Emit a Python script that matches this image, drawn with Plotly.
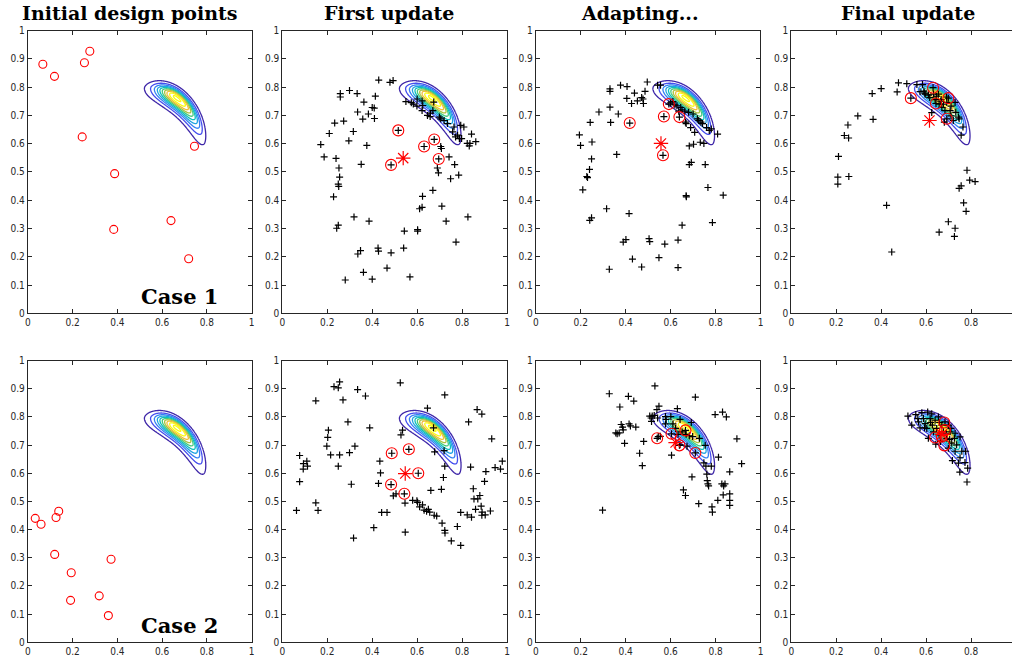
import numpy as np
import plotly.graph_objects as go

# ---------------- data ----------------
TITLES = ["Initial design points", "First update", "Adapting...", "Final update"]
CASE_LABELS = ["Case 1", "Case 2"]
X_TICKS = [0, 0.2, 0.4, 0.6, 0.8, 1]
X_TICK_TEXT = ["0", "0.2", "0.4", "0.6", "0.8", "1"]
Y_TICKS = [0, 0.1, 0.2, 0.3, 0.4, 0.5, 0.6, 0.7, 0.8, 0.9, 1]
Y_TICK_TEXT = ["0", "0.1", "0.2", "0.3", "0.4", "0.5", "0.6", "0.7", "0.8", "0.9", "1"]

# Row 1 / column 1 : initial design points (case 1)
P11_CIRC_X = [0.067, 0.119, 0.277, 0.253, 0.243, 0.388, 0.384, 0.640, 0.745, 0.719]
P11_CIRC_Y = [0.881, 0.838, 0.927, 0.886, 0.624, 0.494, 0.297, 0.328, 0.591, 0.193]
# Row 2 / column 1 : initial design points (case 2)
P21_CIRC_X = [0.033, 0.059, 0.126, 0.138, 0.120, 0.194, 0.191, 0.372, 0.319, 0.360]
P21_CIRC_Y = [0.440, 0.419, 0.443, 0.465, 0.312, 0.247, 0.149, 0.295, 0.165, 0.095]

# Row 1 / column 2 : first update
P12_CIRC_X = [0.516, 0.484, 0.631, 0.676, 0.696]
P12_CIRC_Y = [0.647, 0.525, 0.590, 0.615, 0.546]
P12_STAR = (0.538, 0.549)
P12_PLUS = [
    (0.171, 0.597), (0.186, 0.553), (0.209, 0.636), (0.233, 0.673), (0.239, 0.548),
    (0.228, 0.412), (0.242, 0.301), (0.249, 0.312), (0.249, 0.457), (0.251, 0.449),
    (0.252, 0.514), (0.255, 0.482), (0.258, 0.777), (0.258, 0.765), (0.273, 0.680),
    (0.280, 0.118), (0.296, 0.610), (0.299, 0.788), (0.316, 0.643), (0.319, 0.341),
    (0.333, 0.777), (0.335, 0.712), (0.336, 0.210), (0.348, 0.222), (0.351, 0.527),
    (0.358, 0.687), (0.363, 0.747), (0.361, 0.145), (0.376, 0.594), (0.383, 0.705),
    (0.386, 0.326), (0.400, 0.728), (0.409, 0.726), (0.410, 0.689), (0.414, 0.768),
    (0.400, 0.121), (0.426, 0.231), (0.428, 0.220), (0.429, 0.825), (0.466, 0.160),
    (0.479, 0.817), (0.484, 0.214), (0.493, 0.823), (0.540, 0.231), (0.543, 0.291),
    (0.550, 0.749), (0.568, 0.129), (0.574, 0.745), (0.583, 0.740), (0.600, 0.758),
    (0.599, 0.733), (0.602, 0.296), (0.602, 0.291), (0.611, 0.370), (0.622, 0.751),
    (0.622, 0.717), (0.625, 0.735), (0.622, 0.375), (0.624, 0.414), (0.646, 0.700),
    (0.658, 0.696), (0.659, 0.708), (0.670, 0.717), (0.670, 0.435), (0.674, 0.747),
    (0.690, 0.514), (0.695, 0.497), (0.699, 0.694), (0.705, 0.688), (0.705, 0.590),
    (0.708, 0.583), (0.710, 0.379), (0.729, 0.326), (0.720, 0.682), (0.735, 0.671),
    (0.742, 0.553), (0.749, 0.476), (0.758, 0.642), (0.764, 0.659), (0.767, 0.526),
    (0.771, 0.624), (0.773, 0.252), (0.780, 0.630), (0.785, 0.489), (0.788, 0.618),
    (0.794, 0.665), (0.798, 0.618), (0.808, 0.659), (0.823, 0.601), (0.826, 0.341),
    (0.832, 0.592), (0.835, 0.601), (0.842, 0.634), (0.861, 0.607),
    (0.516, 0.647), (0.484, 0.525), (0.631, 0.590), (0.676, 0.615), (0.696, 0.546),
]

# Row 1 / column 3 : adapting
P13_CIRC_X = [0.418, 0.592, 0.570, 0.639, 0.566]
P13_CIRC_Y = [0.673, 0.740, 0.696, 0.694, 0.559]
P13_STAR = (0.557, 0.601)
P13_PLUS = [
    (0.194, 0.631), (0.199, 0.594), (0.209, 0.437), (0.227, 0.484), (0.230, 0.480),
    (0.239, 0.509), (0.242, 0.675), (0.248, 0.546), (0.250, 0.606), (0.240, 0.329),
    (0.248, 0.338), (0.281, 0.712), (0.315, 0.370), (0.330, 0.794), (0.330, 0.785),
    (0.330, 0.729), (0.333, 0.675), (0.327, 0.156), (0.360, 0.562), (0.367, 0.705),
    (0.377, 0.807), (0.389, 0.252), (0.401, 0.261), (0.406, 0.802), (0.405, 0.760),
    (0.415, 0.353), (0.426, 0.742), (0.430, 0.192), (0.439, 0.779), (0.452, 0.751),
    (0.471, 0.763), (0.477, 0.758), (0.479, 0.742), (0.486, 0.785), (0.471, 0.164),
    (0.496, 0.818), (0.504, 0.264), (0.507, 0.254), (0.542, 0.807), (0.555, 0.807),
    (0.548, 0.197), (0.574, 0.245), (0.610, 0.749), (0.619, 0.737), (0.628, 0.734),
    (0.636, 0.715), (0.651, 0.720), (0.633, 0.259), (0.633, 0.162), (0.651, 0.312),
    (0.663, 0.715), (0.666, 0.676), (0.669, 0.671), (0.669, 0.416), (0.670, 0.412),
    (0.680, 0.711), (0.683, 0.592), (0.683, 0.526), (0.689, 0.657), (0.692, 0.534),
    (0.700, 0.705), (0.702, 0.598), (0.707, 0.640), (0.719, 0.688), (0.725, 0.682),
    (0.732, 0.605), (0.742, 0.671), (0.748, 0.601), (0.754, 0.526), (0.760, 0.657),
    (0.766, 0.445), (0.772, 0.647), (0.781, 0.652), (0.786, 0.321), (0.809, 0.634),
    (0.834, 0.418), (0.600, 0.744), (0.645, 0.728), (0.735, 0.676),
    (0.418, 0.673), (0.592, 0.740), (0.570, 0.696), (0.639, 0.694), (0.566, 0.559),
]

# Row 1 / column 4 : final update
P14_CIRC_X = [0.532, 0.631, 0.699, 0.644, 0.692]
P14_CIRC_Y = [0.761, 0.798, 0.761, 0.742, 0.688]
P14_STAR = (0.615, 0.682)
P14_PLUS = [
    (0.207, 0.457), (0.207, 0.482), (0.210, 0.555), (0.236, 0.629), (0.252, 0.666),
    (0.255, 0.620), (0.256, 0.484), (0.296, 0.698), (0.360, 0.777), (0.364, 0.686),
    (0.400, 0.795), (0.424, 0.382), (0.447, 0.217), (0.471, 0.783), (0.477, 0.815),
    (0.514, 0.812), (0.559, 0.809), (0.573, 0.784), (0.584, 0.809), (0.590, 0.786),
    (0.596, 0.775), (0.610, 0.772), (0.616, 0.763), (0.625, 0.710), (0.633, 0.775),
    (0.640, 0.756), (0.647, 0.768), (0.655, 0.775), (0.658, 0.740), (0.658, 0.287),
    (0.667, 0.756), (0.670, 0.728), (0.677, 0.740), (0.681, 0.676), (0.684, 0.717),
    (0.692, 0.746), (0.699, 0.324), (0.707, 0.717), (0.711, 0.698), (0.721, 0.682),
    (0.726, 0.272), (0.729, 0.301), (0.729, 0.746), (0.732, 0.711), (0.744, 0.694),
    (0.747, 0.688), (0.747, 0.442), (0.756, 0.451), (0.756, 0.630), (0.764, 0.659),
    (0.767, 0.391), (0.778, 0.361), (0.782, 0.506), (0.794, 0.471), (0.818, 0.466),
    (0.691, 0.765), (0.711, 0.733), (0.665, 0.750), (0.594, 0.779),
    (0.532, 0.761), (0.631, 0.798), (0.699, 0.761), (0.644, 0.742), (0.692, 0.688),
]

# Row 2 / column 2 : first update (case 2)
P22_CIRC_X = [0.487, 0.563, 0.605, 0.484, 0.543]
P22_CIRC_Y = [0.671, 0.685, 0.600, 0.560, 0.527]
P22_STAR = (0.547, 0.599)
P22_PLUS = [
    (0.063, 0.468), (0.077, 0.663), (0.077, 0.570), (0.093, 0.615), (0.094, 0.634),
    (0.109, 0.643), (0.112, 0.625), (0.149, 0.857), (0.149, 0.495), (0.159, 0.468),
    (0.198, 0.696), (0.202, 0.727), (0.205, 0.753), (0.215, 0.665), (0.230, 0.907),
    (0.249, 0.903), (0.255, 0.924), (0.249, 0.625), (0.255, 0.665), (0.270, 0.860),
    (0.292, 0.782), (0.299, 0.673), (0.307, 0.561), (0.317, 0.370), (0.323, 0.696),
    (0.335, 0.897), (0.370, 0.874), (0.389, 0.761), (0.407, 0.407), (0.434, 0.643),
    (0.437, 0.601), (0.428, 0.564), (0.442, 0.461), (0.466, 0.461), (0.494, 0.520),
    (0.506, 0.527), (0.525, 0.921), (0.528, 0.736), (0.535, 0.753), (0.546, 0.494),
    (0.547, 0.391), (0.580, 0.504), (0.599, 0.502), (0.602, 0.497), (0.611, 0.481),
    (0.624, 0.488), (0.631, 0.469), (0.642, 0.465), (0.646, 0.831), (0.650, 0.472),
    (0.656, 0.462), (0.661, 0.539), (0.673, 0.761), (0.678, 0.676), (0.676, 0.451),
    (0.687, 0.448), (0.708, 0.543), (0.711, 0.423), (0.717, 0.585), (0.720, 0.680),
    (0.723, 0.878), (0.723, 0.625), (0.723, 0.397), (0.724, 0.388), (0.752, 0.360),
    (0.779, 0.411), (0.794, 0.344), (0.794, 0.461), (0.823, 0.452), (0.829, 0.782),
    (0.838, 0.622), (0.842, 0.444), (0.850, 0.545), (0.853, 0.509), (0.860, 0.472),
    (0.867, 0.826), (0.870, 0.509), (0.879, 0.521), (0.885, 0.483), (0.888, 0.810),
    (0.888, 0.451), (0.889, 0.462), (0.900, 0.571), (0.903, 0.452), (0.906, 0.606),
    (0.926, 0.466), (0.932, 0.722), (0.947, 0.620), (0.971, 0.615), (0.979, 0.643),
    (0.487, 0.671), (0.563, 0.685), (0.605, 0.600), (0.484, 0.560), (0.543, 0.527),
]

# Row 2 / column 3 : adapting (case 2)
P23_CIRC_X = [0.540, 0.604, 0.639, 0.666, 0.710]
P23_CIRC_Y = [0.724, 0.740, 0.699, 0.752, 0.672]
P23_STAR = (0.622, 0.709)
P23_PLUS = [
    (0.297, 0.469), (0.327, 0.882), (0.374, 0.835), (0.356, 0.743), (0.362, 0.740),
    (0.371, 0.743), (0.380, 0.773), (0.386, 0.764), (0.389, 0.754), (0.395, 0.706),
    (0.412, 0.873), (0.415, 0.775), (0.421, 0.768), (0.436, 0.856), (0.445, 0.764),
    (0.462, 0.671), (0.474, 0.627), (0.480, 0.713), (0.507, 0.803), (0.513, 0.796),
    (0.515, 0.784), (0.518, 0.803), (0.530, 0.910), (0.527, 0.805), (0.539, 0.826),
    (0.548, 0.838), (0.542, 0.796), (0.545, 0.730), (0.554, 0.731), (0.577, 0.801),
    (0.580, 0.791), (0.577, 0.775), (0.601, 0.801), (0.604, 0.664), (0.610, 0.775),
    (0.622, 0.759), (0.630, 0.829), (0.633, 0.738), (0.642, 0.791), (0.642, 0.701),
    (0.651, 0.747), (0.657, 0.541), (0.666, 0.521), (0.669, 0.738), (0.673, 0.696),
    (0.683, 0.733), (0.692, 0.780), (0.695, 0.587), (0.698, 0.730), (0.710, 0.870),
    (0.725, 0.492), (0.728, 0.724), (0.748, 0.637), (0.754, 0.699), (0.757, 0.625),
    (0.761, 0.597), (0.763, 0.574), (0.766, 0.562), (0.769, 0.555), (0.781, 0.625),
    (0.784, 0.481), (0.786, 0.462), (0.798, 0.808), (0.810, 0.504), (0.813, 0.657),
    (0.828, 0.562), (0.831, 0.817), (0.834, 0.523), (0.836, 0.555), (0.842, 0.562),
    (0.848, 0.800), (0.863, 0.605), (0.863, 0.527), (0.863, 0.504), (0.863, 0.486),
    (0.895, 0.722), (0.916, 0.634),
    (0.540, 0.724), (0.604, 0.740), (0.639, 0.699), (0.666, 0.752), (0.710, 0.672),
]

# Row 2 / column 4 : final update (case 2)
P24_CIRC_X = [0.681, 0.684, 0.640, 0.670, 0.681]
P24_CIRC_Y = [0.780, 0.753, 0.727, 0.730, 0.699]
P24_STAR = (0.670, 0.738)
P24_PLUS = [
    (0.519, 0.803), (0.536, 0.771), (0.554, 0.808), (0.566, 0.782), (0.573, 0.761),
    (0.581, 0.815), (0.588, 0.794), (0.596, 0.776), (0.607, 0.817), (0.603, 0.759),
    (0.610, 0.724), (0.618, 0.794), (0.625, 0.811), (0.628, 0.771), (0.633, 0.747),
    (0.640, 0.788), (0.647, 0.759), (0.643, 0.703), (0.655, 0.800), (0.658, 0.736),
    (0.664, 0.713), (0.670, 0.771), (0.677, 0.747), (0.692, 0.724), (0.699, 0.689),
    (0.707, 0.747), (0.711, 0.759), (0.714, 0.707), (0.717, 0.645), (0.726, 0.724),
    (0.729, 0.678), (0.736, 0.701), (0.744, 0.636), (0.750, 0.604), (0.751, 0.655),
    (0.759, 0.678), (0.773, 0.638), (0.782, 0.569), (0.785, 0.618), (0.776, 0.678),
    (0.751, 0.729), (0.729, 0.742), (0.699, 0.771), (0.684, 0.782), (0.593, 0.761),
    (0.563, 0.794), (0.620, 0.780), (0.660, 0.780), (0.690, 0.740), (0.705, 0.720),
]

# target density (banana) parameters
BANANA_CX, BANANA_CY = 0.541, 0.547
BANANA_R0 = 0.248
BANANA_SR_OUT, BANANA_SR_IN = 0.017, 0.025
BANANA_T0_DEG = 60.0
BANANA_ST_L_DEG, BANANA_ST_R_DEG = 15.0, 21.0

PARULA = [
    [0.0, "#3e26a8"], [0.1, "#4743e8"], [0.2, "#3e70fe"], [0.3, "#2c91e8"],
    [0.4, "#1caadf"], [0.5, "#0cbfbd"], [0.6, "#2fc98a"], [0.7, "#84cb53"],
    [0.8, "#d0ba2f"], [0.9, "#fdc03b"], [1.0, "#f9fb15"],
]

# ---------------- layout geometry ----------------
W, H = 1015, 668
COL_L = [25, 281, 536, 793]
COL_R = [250, 507, 762, 1015]
ROW_T = [25, 361]
ROW_B = [313, 648]
TITLE_CX = [128, 388, 641, 910]
TICK_FONT = dict(family="DejaVu Sans Condensed, Liberation Sans Narrow, Liberation Sans, sans-serif",
                 size=10, color="#262626")
SERIF = "DejaVu Serif, Liberation Serif, serif"

# density grid
gx = np.linspace(0.40, 0.90, 301)
gy = np.linspace(0.50, 0.90, 241)
GX, GY = np.meshgrid(gx, gy)
dx, dy = GX - BANANA_CX, GY - BANANA_CY
R = np.hypot(dx, dy)
T = np.degrees(np.arctan2(dy, dx))
sr = np.where(R > BANANA_R0, BANANA_SR_OUT, BANANA_SR_IN)
st = np.where(T > BANANA_T0_DEG, BANANA_ST_L_DEG, BANANA_ST_R_DEG)
Z = np.exp(-0.5 * ((R - BANANA_R0) / sr) ** 2) * np.exp(-0.5 * ((T - BANANA_T0_DEG) / st) ** 2)

fig = go.Figure()

panels = [
    (0, 0, P11_CIRC_X, P11_CIRC_Y, None, None),
    (0, 1, P12_CIRC_X, P12_CIRC_Y, P12_STAR, P12_PLUS),
    (0, 2, P13_CIRC_X, P13_CIRC_Y, P13_STAR, P13_PLUS),
    (0, 3, P14_CIRC_X, P14_CIRC_Y, P14_STAR, P14_PLUS),
    (1, 0, P21_CIRC_X, P21_CIRC_Y, None, None),
    (1, 1, P22_CIRC_X, P22_CIRC_Y, P22_STAR, P22_PLUS),
    (1, 2, P23_CIRC_X, P23_CIRC_Y, P23_STAR, P23_PLUS),
    (1, 3, P24_CIRC_X, P24_CIRC_Y, P24_STAR, P24_PLUS),
]

layout = dict(width=W, height=H, margin=dict(l=0, r=0, t=0, b=0),
              paper_bgcolor="white", plot_bgcolor="white", showlegend=False)
annotations = []

for i, (row, col, cx, cy, star, plus) in enumerate(panels):
    n = i + 1
    xa, ya = f"x{n}", f"y{n}"
    fig.add_trace(go.Contour(
        x=gx, y=gy, z=Z, xaxis=xa, yaxis=ya,
        contours=dict(coloring="lines", start=0.07, end=0.97, size=0.1, showlabels=False),
        colorscale=PARULA, zauto=False, zmin=0.07, zmax=0.97,
        line=dict(width=1.3), showscale=False, hoverinfo="skip"))
    if plus is not None:
        px, py = zip(*plus)
        fig.add_trace(go.Scatter(
            x=list(px), y=list(py), xaxis=xa, yaxis=ya, mode="markers",
            marker=dict(symbol="cross-thin", size=5, color="black",
                        line=dict(color="black", width=1.2))))
    csize = 8 if col == 0 else 11
    fig.add_trace(go.Scatter(
        x=cx, y=cy, xaxis=xa, yaxis=ya, mode="markers",
        marker=dict(symbol="circle-open", size=csize, color="#ff0000",
                    line=dict(color="#ff0000", width=1.1))))
    if star is not None:
        fig.add_trace(go.Scatter(
            x=[star[0]], y=[star[1]], xaxis=xa, yaxis=ya, mode="markers",
            marker=dict(symbol="asterisk-open", size=12, color="#ff0000",
                        line=dict(color="#ff0000", width=1.2))))

    xr = [0, 1] if col < 3 else [0, (COL_R[col] - COL_L[col]) / 226.0]
    xkey = "xaxis" if n == 1 else f"xaxis{n}"
    ykey = "yaxis" if n == 1 else f"yaxis{n}"
    common = dict(showline=True, linecolor="#262626", linewidth=1,
                  ticks="inside", ticklen=4, tickwidth=1, tickcolor="#262626",
                  showgrid=False, zeroline=False, tickfont=TICK_FONT, fixedrange=True)
    layout[xkey] = dict(common, domain=[COL_L[col] / W, COL_R[col] / W], anchor=ya,
                        range=xr, tickmode="array", tickvals=X_TICKS, ticktext=X_TICK_TEXT,
                        mirror="ticks")
    layout[ykey] = dict(common, domain=[1 - ROW_B[row] / H, 1 - ROW_T[row] / H], anchor=xa,
                        range=[0, 1], tickmode="array", tickvals=Y_TICKS, ticktext=Y_TICK_TEXT,
                        mirror="ticks" if col < 3 else False)
    if row == 0:
        annotations.append(dict(
            xref="paper", yref="paper",
            x=TITLE_CX[col] / W, y=1 - 19 / H, borderpad=0,
            text=f"<b>{TITLES[col]}</b>", showarrow=False, xanchor="center", yanchor="bottom",
            font=dict(family=SERIF, size=19, color="black")))
    if col == 0:
        annotations.append(dict(
            xref=xa, yref=ya, x=0.68, y=0.06, text=f"<b>{CASE_LABELS[row]}</b>",
            showarrow=False, xanchor="center", yanchor="middle",
            font=dict(family=SERIF, size=21, color="black")))

layout["annotations"] = annotations
fig.update_layout(**layout)
fig.write_html("out.html")
